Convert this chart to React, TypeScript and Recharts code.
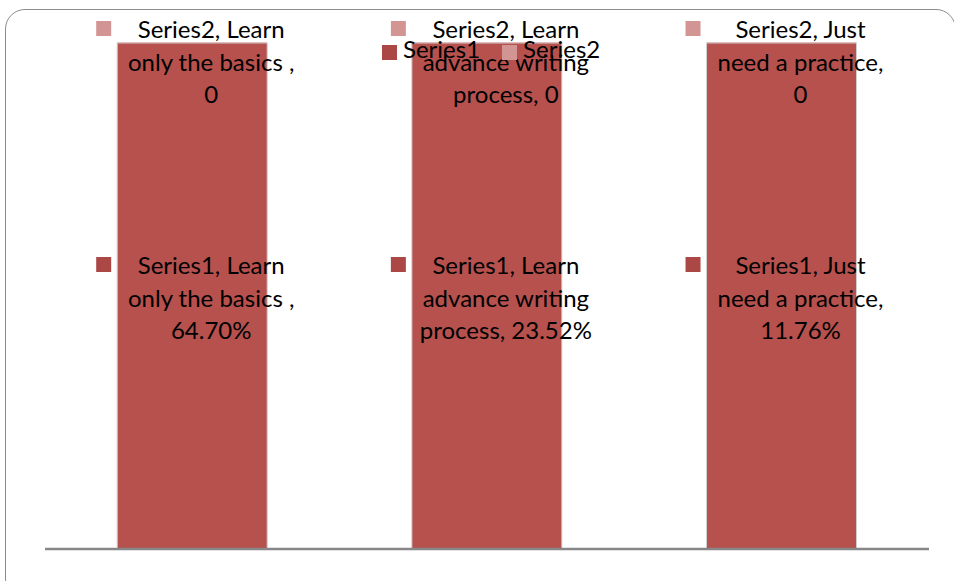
import { BarChart, Bar, XAxis, YAxis, Legend, LabelList } from "recharts";

// category names as they appear in the data labels (the first one keeps its trailing space)
const categories = [
  "Learn only the basics ",
  "Learn advance writing process",
  "Just need a practice",
];
const series1 = [64.7, 23.52, 11.76];
const series2 = [0, 0, 0];

const SERIES = [
  { key: "Series1", values: series1, fill: "#B6514E", keyColor: "#AB4845", fmt: (v: number) => `${v.toFixed(2)}%` },
  { key: "Series2", values: series2, fill: "#D39594", keyColor: "#D39594", fmt: (v: number) => String(v) },
];

const data = categories.map((c, i) => ({
  category: c,
  Series1: series1[i],
  Series2: series2[i],
}));

const FONT = "Lato, 'Noto Sans', sans-serif";
const LINE_H = 32.5;

// greedy word wrap, same break points Excel used for these labels
function wrap(text: string, max: number) {
  const out: string[] = [];
  let cur = "";
  for (const w of text.split(" ").filter(Boolean)) {
    const next = cur ? `${cur} ${w}` : w;
    if (next.length > max && cur) {
      out.push(cur);
      cur = w;
    } else cur = next;
  }
  if (cur) out.push(cur);
  return out;
}

function makeLabel(s: (typeof SERIES)[number]) {
  return (props: any) => {
    const vb = props.viewBox ?? props;
    const x = Number(props.x ?? vb.x);
    const y = Number(props.y ?? vb.y);
    const width = Number(props.width ?? vb.width);
    const height = Number(props.height ?? vb.height);
    const i = props.index ?? 0;
    const cx = x + width / 2;
    // labels of empty segments get pushed down inside the chart area
    const cy = Math.max(y + height / 2, 60);
    const lines = wrap(`${s.key}, ${categories[i]}, ${s.fmt(s.values[i])}`, 17);
    const base = cy + 10.5 - (LINE_H * (lines.length - 1)) / 2;
    return (
      <g>
        <rect x={cx - 96} y={base - 17} width={15} height={15} fill={s.keyColor} />
        <text textAnchor="middle" fontFamily={FONT} fontSize={24} fill="#000">
          {lines.map((l, j) => (
            <tspan key={j} x={cx + 19} y={base + j * LINE_H}>
              {l}
            </tspan>
          ))}
        </text>
      </g>
    );
  };
}

function renderLegend(props: any) {
  const items = props.payload ?? [];
  return (
    <div style={{ display: "flex", fontFamily: FONT, fontSize: 24, lineHeight: "28px", color: "#000" }}>
      {items.map((it: any) => {
        const s = SERIES.find((d) => d.key === it.value);
        return (
          <div key={it.value} style={{ display: "flex", alignItems: "center", marginRight: 22 }}>
            <span style={{ width: 15, height: 15, background: s?.keyColor ?? it.color, marginRight: 6 }} />
            <span style={{ position: "relative", top: -3 }}>{it.value}</span>
          </div>
        );
      })}
    </div>
  );
}

export default function App() {
  return (
    <div style={{ position: "absolute", left: 0, top: 0, width: 954, height: 581, overflow: "hidden", background: "#fff" }}>
      <div
        style={{
          position: "absolute",
          left: 5,
          top: 9,
          width: 951,
          height: 590,
          boxSizing: "border-box",
          border: "1.5px solid #8c8c8c",
          borderRadius: 20,
        }}
      />
      <BarChart
        width={954}
        height={581}
        data={data}
        stackOffset="expand"
        barCategoryGap="24.5%"
        margin={{ top: 15, right: 25, bottom: 31, left: 45 }}
        style={{ position: "absolute", left: 0, top: 0 }}
      >
        <XAxis
          dataKey="category"
          tick={false}
          tickLine={false}
          height={1}
          axisLine={{ stroke: "#878787", strokeWidth: 2.5 }}
        />
        <YAxis hide domain={[0, 1]} />
        <Legend
          verticalAlign="top"
          content={renderLegend}
          wrapperStyle={{ top: 38, left: 382, width: 260 }}
        />
        {SERIES.map((s) => (
          <Bar
            key={s.key}
            dataKey={s.key}
            name={s.key}
            stackId="a"
            fill={s.fill}
            stroke={s.key === "Series1" ? "#cfcfcf" : undefined}
            strokeWidth={1}
            minPointSize={s.key === "Series2" ? 0.5 : 0}
            isAnimationActive={false}
          >
            <LabelList dataKey={s.key} content={makeLabel(s)} />
          </Bar>
        ))}
      </BarChart>
    </div>
  );
}
